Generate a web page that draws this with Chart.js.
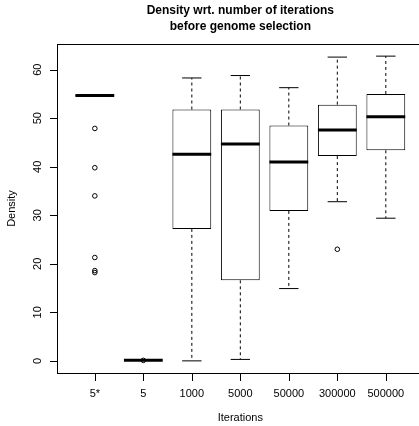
<!DOCTYPE html>
<html>
<head>
<meta charset="utf-8">
<script src="https://cdn.jsdelivr.net/npm/chart.js@4"></script>
<style>
    html, body { margin: 0; padding: 0; background: #fff; overflow: hidden; }
    #box-chart { display: block; width: 419px; height: 426px; }
</style>
</head>
<body>
<canvas id="box-chart" width="419" height="426"></canvas>
<script>
// Values
const categories = ['5*', '5', '1000', '5000', '50000', '300000', '500000'];
const lowerWhisker = [54.6, 0.15, 0.0, 0.3, 14.9, 32.8, 29.4];
const lowerQuartile = [54.6, 0.15, 27.2, 16.6, 30.9, 42.2, 43.4];
const medians = [54.7, 0.15, 42.6, 44.7, 41.0, 47.6, 50.3];
const upperQuartile = [54.8, 0.15, 51.8, 51.8, 48.5, 52.8, 55.0];
const upperWhisker = [54.8, 0.15, 58.3, 58.8, 56.3, 62.6, 62.8];
const outliers = [[47.9, 39.8, 34.0, 21.3, 18.6, 18.2], [0.1], [], [], [], [23.0], []];
const yTicks = [0, 10, 20, 30, 40, 50, 60];
const titleLines = ['Density wrt. number of iterations', 'before genome selection'];

const FONT = "'Liberation Sans', Arial, Helvetica, sans-serif";
const TICK_LEN = 7;
const positions = categories.map((c, i) => i + 1);

// Build the point lists the line/bar controllers need
const boxData = positions.map((x, i) => ({ x: x, y: [lowerQuartile[i], upperQuartile[i]] }));

const whiskerData = [];
const stapleData = [];
const medianData = [];
const outlierData = [];
positions.forEach((x, i) => {
    whiskerData.push({ x: x, y: upperQuartile[i] }, { x: x, y: upperWhisker[i] }, { x: x, y: null });
    whiskerData.push({ x: x, y: lowerQuartile[i] }, { x: x, y: lowerWhisker[i] }, { x: x, y: null });
    stapleData.push({ x: x - 0.2, y: upperWhisker[i] }, { x: x + 0.2, y: upperWhisker[i] }, { x: x + 0.2, y: null });
    stapleData.push({ x: x - 0.2, y: lowerWhisker[i] }, { x: x + 0.2, y: lowerWhisker[i] }, { x: x + 0.2, y: null });
    medianData.push({ x: x - 0.4, y: medians[i] }, { x: x + 0.4, y: medians[i] }, { x: x + 0.4, y: null });
    outliers[i].forEach(v => outlierData.push({ x: x, y: v }));
});

// Frame (right side is cut off by the window), outward ticks, titles, sideways y labels
const framePlugin = {
    id: 'frame',
    afterDraw(chart) {
        const { ctx, chartArea: a } = chart;
        const xScale = chart.scales.x;
        const yScale = chart.scales.y;
        const left = Math.round(a.left);
        const top = Math.round(a.top);
        const bottom = Math.round(a.bottom);
        const width = Math.round(a.right) - left;
        ctx.save();
        ctx.fillStyle = '#000';
        ctx.fillRect(left, top, width, 1);
        ctx.fillRect(left, bottom, width, 1);
        ctx.fillRect(left, top, 1, bottom - top + 1);

        positions.forEach(v => {
            const x = Math.round(xScale.getPixelForValue(v));
            ctx.fillRect(x, bottom, 1, TICK_LEN + 1);
        });
        yTicks.forEach(v => {
            const y = Math.round(yScale.getPixelForValue(v));
            ctx.fillRect(left - TICK_LEN, y, TICK_LEN + 1, 1);
        });

        // R centres titles over the whole plot region, which runs past the window edge
        const cx = xScale.getPixelForValue((0.22 + 7.78) / 2);
        ctx.textAlign = 'center';
        ctx.textBaseline = 'middle';
        ctx.font = 'bold 12px ' + FONT;
        titleLines.forEach((line, i) => ctx.fillText(line, cx, 11 + i * 16));

        ctx.font = '11px ' + FONT;
        ctx.fillText('Iterations', cx, 418);

        yTicks.forEach(v => {
            const y = yScale.getPixelForValue(v);
            ctx.save();
            ctx.translate(37.5, y);
            ctx.rotate(-Math.PI / 2);
            ctx.fillText(String(v), 0, 0);
            ctx.restore();
        });
        ctx.restore();
    }
};

const ctx = document.getElementById('box-chart').getContext('2d');
new Chart(ctx, {
    type: 'scatter',
    data: {
        datasets: [
            {
                type: 'line',
                label: 'whiskers',
                data: whiskerData,
                borderColor: '#000',
                borderWidth: 1,
                borderDash: [3, 3],
                pointRadius: 0,
                spanGaps: false,
                order: 4
            },
            {
                type: 'bar',
                label: 'boxes',
                data: boxData,
                backgroundColor: '#fff',
                borderColor: '#000',
                borderWidth: 1,
                borderSkipped: false,
                barPercentage: 0.8,
                categoryPercentage: 1,
                order: 3
            },
            {
                type: 'line',
                label: 'staples',
                data: stapleData,
                borderColor: '#000',
                borderWidth: 1,
                pointRadius: 0,
                spanGaps: false,
                order: 2
            },
            {
                type: 'line',
                label: 'medians',
                data: medianData,
                borderColor: '#000',
                borderWidth: 3,
                borderCapStyle: 'butt',
                pointRadius: 0,
                spanGaps: false,
                order: 1
            },
            {
                type: 'scatter',
                label: 'outliers',
                data: outlierData,
                pointStyle: 'circle',
                pointRadius: 2.3,
                hoverRadius: 2.3,
                backgroundColor: 'rgba(0,0,0,0)',
                borderColor: '#000',
                borderWidth: 1,
                order: 0
            }
        ]
    },
    options: {
        responsive: false,
        animation: false,
        devicePixelRatio: 1,
        layout: { autoPadding: false, padding: { top: 44, left: 0, right: 0, bottom: 0 } },
        plugins: {
            legend: { display: false },
            tooltip: { enabled: false }
        },
        scales: {
            x: {
                type: 'linear',
                min: 0.22,
                max: 7.684,
                offset: false,
                afterFit: scale => {
                    scale.height = 53;
                    scale.paddingLeft = 0;
                    scale.paddingRight = 0;
                },
                afterBuildTicks: scale => {
                    scale.ticks = positions.map(v => ({ value: v }));
                },
                grid: { display: false },
                border: { display: false },
                ticks: {
                    color: '#000',
                    font: { family: FONT, size: 11 },
                    padding: 6,
                    maxRotation: 0,
                    autoSkip: false,
                    callback: v => categories[v - 1]
                },
                title: { display: false }
            },
            y: {
                min: -2.5,
                max: 65.3,
                afterFit: scale => {
                    scale.width = 57;
                    scale.paddingTop = 0;
                    scale.paddingBottom = 0;
                },
                afterBuildTicks: scale => {
                    scale.ticks = yTicks.map(v => ({ value: v }));
                },
                grid: { display: false },
                border: { display: false },
                ticks: { display: false },
                title: {
                    display: true,
                    text: 'Density',
                    color: '#000',
                    font: { family: FONT, size: 11 },
                    padding: { top: 5.4, bottom: 0 }
                }
            }
        }
    },
    plugins: [framePlugin]
});
</script>
</body>
</html>
